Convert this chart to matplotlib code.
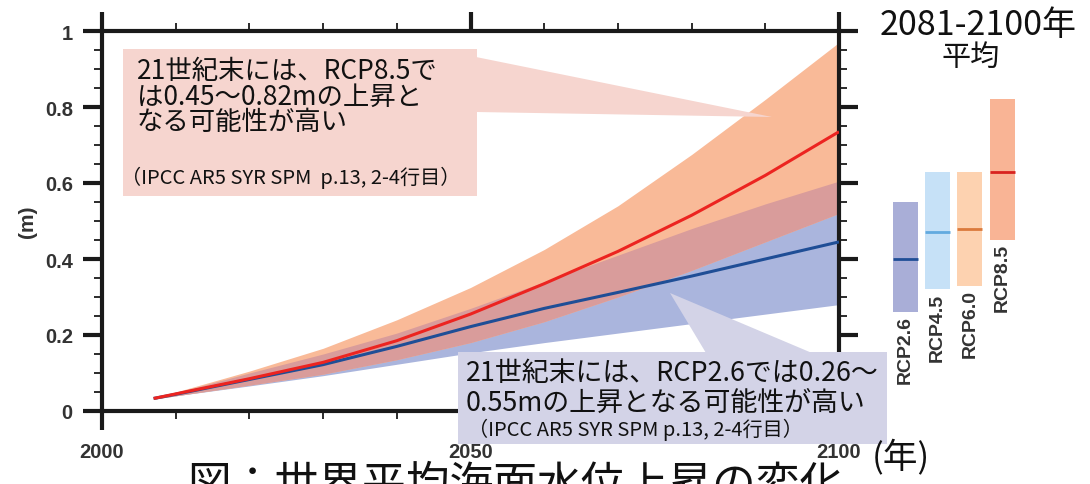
import numpy as np
import matplotlib
matplotlib.use("Agg")
import matplotlib.pyplot as plt
from matplotlib.patches import Rectangle, Polygon
from matplotlib.ticker import MultipleLocator, FixedLocator

plt.rcParams['font.family'] = ['Noto Sans CJK JP', 'DejaVu Sans']

# ---------------- data ----------------
years = [2007, 2010, 2020, 2030, 2040, 2050, 2060, 2070, 2080, 2090, 2100]
rcp85_mid = [0.033, 0.045, 0.085, 0.128, 0.185, 0.255, 0.335, 0.420, 0.515, 0.620, 0.735]
rcp85_hi = [0.035, 0.050, 0.105, 0.165, 0.240, 0.325, 0.425, 0.540, 0.675, 0.820, 0.970]
rcp85_lo = [0.031, 0.040, 0.068, 0.097, 0.135, 0.180, 0.235, 0.300, 0.370, 0.445, 0.520]
rcp26_mid = [0.033, 0.044, 0.083, 0.122, 0.170, 0.222, 0.270, 0.312, 0.355, 0.400, 0.445]
rcp26_hi = [0.035, 0.048, 0.100, 0.150, 0.205, 0.270, 0.340, 0.410, 0.480, 0.545, 0.605]
rcp26_lo = [0.031, 0.040, 0.066, 0.093, 0.123, 0.153, 0.180, 0.205, 0.230, 0.255, 0.280]

bar_names = ["RCP2.6", "RCP4.5", "RCP6.0", "RCP8.5"]
bar_mean = [0.40, 0.47, 0.48, 0.63]
bar_lo = [0.26, 0.32, 0.33, 0.45]
bar_hi = [0.55, 0.63, 0.63, 0.82]

xticks_major = [2000, 2050, 2100]
xtick_labels = ["2000", "2050", "2100"]
yticks_major = [0, 0.2, 0.4, 0.6, 0.8, 1.0]
ytick_labels = ["0", "0.2", "0.4", "0.6", "0.8", "1"]

# ---------------- layout ----------------
W, H = 1090, 485
fig = plt.figure(figsize=(W / 100, H / 100), dpi=100)

def fx(px):
    return px / W

def fy(py):
    return 1 - py / H

ax = fig.add_axes([fx(102), fy(412), (839 - 102) / W, (412 - 32) / H])
ax.set_xlim(2000, 2100)
ax.set_ylim(0, 1)

yrs = np.array(years, dtype=float)
h85, l85 = np.array(rcp85_hi), np.array(rcp85_lo)
h26, l26 = np.array(rcp26_hi), np.array(rcp26_lo)

ax.fill_between(yrs, l26, h26, color="#AAB5DD", lw=0, zorder=1)
ax.fill_between(yrs, l85, h85, color="#F9BA98", lw=0, zorder=1)
ov_top = np.minimum(h85, h26)
ov_bot = np.maximum(l85, l26)
ax.fill_between(yrs, ov_bot, ov_top, where=ov_top > ov_bot, color="#D99C9B",
                lw=0, zorder=2, interpolate=True)
ax.plot(yrs, rcp26_mid, color="#1F4E96", lw=2.2, zorder=3, solid_capstyle="butt")
ax.plot(yrs, rcp85_mid, color="#EC2420", lw=2.2, zorder=4, solid_capstyle="butt")

for s in ax.spines.values():
    s.set_linewidth(3)
    s.set_color("#1a1a1a")

ax.xaxis.set_major_locator(FixedLocator(xticks_major))
ax.xaxis.set_minor_locator(MultipleLocator(10))
ax.yaxis.set_major_locator(FixedLocator(yticks_major))
ax.yaxis.set_minor_locator(MultipleLocator(0.05))
ax.set_xticklabels(xtick_labels)
ax.set_yticklabels(ytick_labels)
ax.tick_params(which="major", direction="out", length=14, width=3, color="#1a1a1a",
               top=True, right=True, labeltop=False, labelright=False)
ax.tick_params(which="minor", direction="out", length=6, width=1.3, color="#1a1a1a",
               top=True, right=True)
ax.tick_params(axis="y", which="major", pad=7)
ax.tick_params(axis="x", which="major", pad=8)
tick_font = ['Liberation Sans', 'DejaVu Sans']
for lab in ax.get_xticklabels() + ax.get_yticklabels():
    lab.set_family(tick_font)
    lab.set_fontsize(14.5)
    lab.set_fontweight("bold")
    lab.set_color("#333333")

fig.text(fx(28), fy(222), "(m)", rotation=90, ha="center", va="center",
         fontsize=15, family=tick_font, fontweight="bold", color="#333333")

# ---------------- right-side bars ----------------
ax2 = fig.add_axes([fx(885), fy(412), (1022 - 885) / W, (412 - 32) / H])
ax2.set_xlim(-0.637, 3.618)
ax2.set_ylim(0, 1)
ax2.axis("off")
pos = np.arange(len(bar_names))
bar_cols = ["#A9AED7", "#C6E1F7", "#FDD2B0", "#F9B495"]
line_cols = ["#1F4E96", "#62AADF", "#DB7A3C", "#D8231F"]
ax2.bar(pos, np.array(bar_hi) - np.array(bar_lo), bottom=bar_lo, width=0.78,
        color=bar_cols, lw=0)
for p, m, c in zip(pos, bar_mean, line_cols):
    ax2.hlines(m, p - 0.39, p + 0.39, color=c, lw=2)
for p, lo, name in zip(pos, bar_lo, bar_names):
    ax2.text(p, lo - 0.008, name, rotation=90, ha="center", va="top",
             fontsize=14, family=tick_font, fontweight="bold", color="#333333")

# ---------------- overlay (callouts & texts) ----------------
ov = fig.add_axes([0, 0, 1, 1], zorder=5)
ov.set_xlim(0, W)
ov.set_ylim(H, 0)
ov.axis("off")
ov.patch.set_alpha(0)

pink = "#F6D5CF"
ov.add_patch(Rectangle((123, 50), 354, 147, color=pink, lw=0))
ov.add_patch(Polygon([(476, 58), (476, 113), (772, 118)], closed=True, color=pink, lw=0))
lav = "#D3D3E7"
ov.add_patch(Rectangle((458, 353), 429, 92, color=lav, lw=0))
ov.add_patch(Polygon([(670, 294), (706, 354), (812, 354)], closed=True, color=lav, lw=0))

big = 19
ov.text(137, 71, "21世紀末には、RCP8.5で", fontsize=big, va="center", ha="left", color="#111111")
ov.text(137, 97, "は0.45～0.82mの上昇と", fontsize=big, va="center", ha="left", color="#111111")
ov.text(137, 123, "なる可能性が高い", fontsize=big, va="center", ha="left", color="#111111")
ov.text(121, 178, "（IPCC AR5 SYR SPM  p.13, 2-4行目）", fontsize=14.5, va="center",
        ha="left", color="#111111")

ov.text(466, 373, "21世紀末には、RCP2.6では0.26～", fontsize=19.4, va="center", ha="left", color="#111111")
ov.text(466, 403, "0.55mの上昇となる可能性が高い", fontsize=19.4, va="center", ha="left", color="#111111")
ov.text(468, 430, "（IPCC AR5 SYR SPM p.13, 2-4行目）", fontsize=14.5, va="center",
        ha="left", color="#111111")

ov.text(978, 26, "2081-2100年", fontsize=24.5, ha="center", va="center", color="#111111")
ov.text(971, 58, "平均", fontsize=21, ha="center", va="center", color="#111111")
ov.text(901, 458, "(年)", fontsize=25, ha="center", va="center", color="#111111")
ov.text(515, 461, "図：世界平均海面水位上昇の変化", fontsize=31.5, ha="center", va="top",
        color="#111111")

fig.savefig("out.png", dpi=100)
